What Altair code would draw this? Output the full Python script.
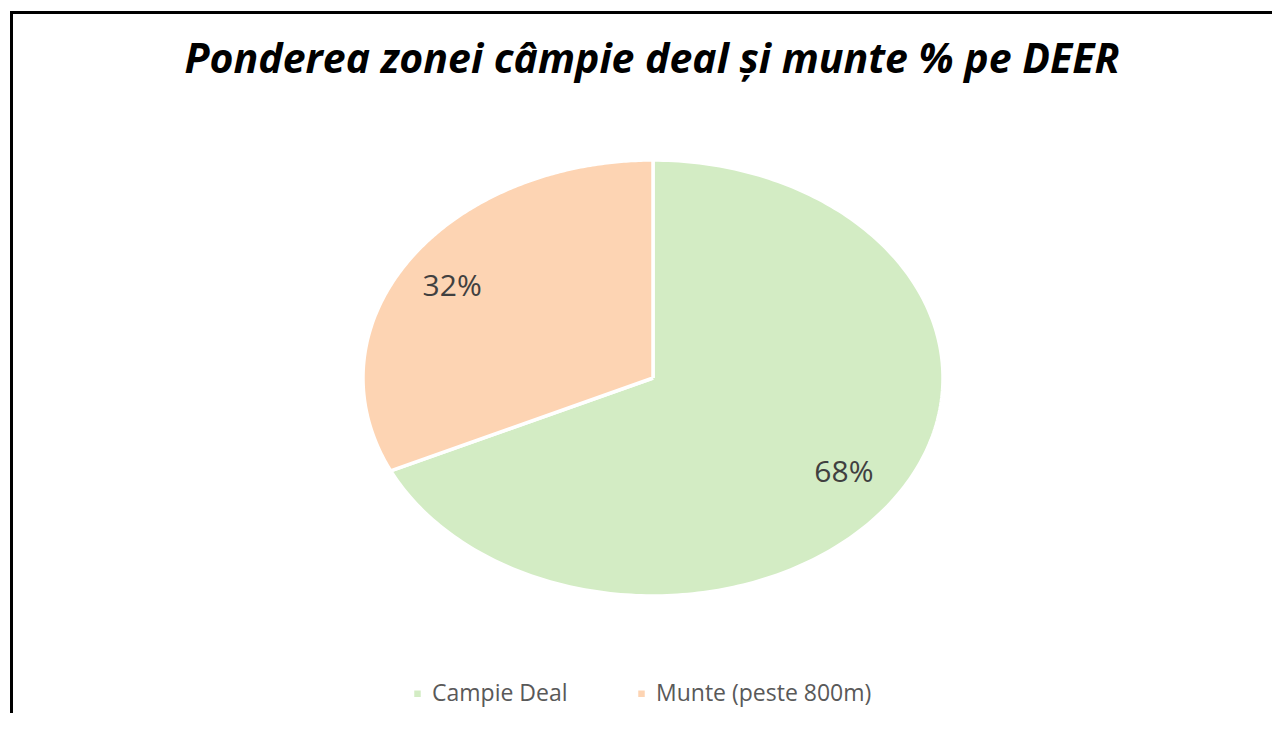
import altair as alt
import pandas as pd

# ---- data ----
categories = ["Campie Deal", "Munte (peste 800m)"]
values = [68, 32]
colors = ["#D3ECC4", "#FDD4B3"]
title_text = "Ponderea zonei câmpie deal și munte % pe DEER"

N = 240  # points per arc outline

df = pd.DataFrame({"cat": categories, "val": values, "ord": [0, 1]})

x_scale = alt.Scale(domain=[-1, 1], range=[353, 933], nice=False, zero=False)
y_scale = alt.Scale(domain=[-1, 1], range=[588, 152], nice=False, zero=False)
color_scale = alt.Scale(domain=categories, range=colors)

base = (
    alt.Chart(df)
    .transform_joinaggregate(total="sum(val)")
    .transform_window(cum="sum(val)", sort=[alt.SortField("ord")], frame=[None, 0])
    .transform_calculate(
        t_end="datum.cum / datum.total",
        t_start="(datum.cum - datum.val) / datum.total",
    )
)

pie = (
    base.transform_calculate(k=f"sequence(0, {N + 2})")
    .transform_flatten(["k"])
    .transform_calculate(
        ang=f"2*PI*(datum.t_start + (datum.t_end - datum.t_start)*clamp((datum.k-1)/({N}-1), 0, 1))",
        r=f"(datum.k == 0 || datum.k == {N + 1}) ? 0 : 1",
    )
    .transform_calculate(
        px="datum.r*sin(datum.ang)",
        py="datum.r*cos(datum.ang)",
    )
    .mark_line(filled=True, stroke="white", strokeWidth=3.5, strokeJoin="round", opacity=1)
    .encode(
        x=alt.X("px:Q", scale=x_scale, axis=None),
        y=alt.Y("py:Q", scale=y_scale, axis=None),
        color=alt.Color(
            "cat:N",
            scale=color_scale,
            sort=categories,
            legend=alt.Legend(
                title=None,
                orient="none",
                direction="horizontal",
                legendX=396,
                legendY=674,
                symbolType="square",
                symbolSize=42,
                symbolStrokeWidth=0,
                labelFont="Open Sans",
                labelFontSize=23,
                labelColor="#595959",
                labelLimit=0,
                columnPadding=62,
                labelOffset=3,
            ),
        ),
        order=alt.Order("k:Q"),
        detail="cat:N",
    )
)

labels = (
    base.transform_calculate(
        mid="2*PI*(datum.t_start + datum.t_end)/2",
        lab="datum.val + '%'",
    )
    .transform_calculate(
        lx="0.8*sin(datum.mid)",
        ly="0.8*cos(datum.mid)",
    )
    .mark_text(font="Open Sans", fontSize=30, color="#404040", dx=-5, dy=2)
    .encode(
        x=alt.X("lx:Q", scale=x_scale, axis=None),
        y=alt.Y("ly:Q", scale=y_scale, axis=None),
        text="lab:N",
    )
)

title = (
    alt.Chart(pd.DataFrame({"t": [title_text]}))
    .mark_text(
        font="Open Sans",
        fontSize=41,
        fontWeight="bold",
        fontStyle="italic",
        color="black",
        baseline="alphabetic",
    )
    .encode(x=alt.value(642), y=alt.value(65), text="t:N")
)

frame_df = pd.DataFrame({"a": [0]})
top_line = alt.Chart(frame_df).mark_rule(color="black", strokeWidth=3).encode(
    x=alt.value(0), x2=alt.value(1262), y=alt.value(4.5)
)
left_line = alt.Chart(frame_df).mark_rule(color="black", strokeWidth=3).encode(
    x=alt.value(1.5), y=alt.value(3), y2=alt.value(705)
)

chart = (
    alt.layer(pie, labels, title, top_line, left_line)
    .properties(width=1262, height=705, padding=0, background="white")
    .configure_view(stroke=None)
)

chart.save("out.html", embed_options={"renderer": "svg", "actions": False})
